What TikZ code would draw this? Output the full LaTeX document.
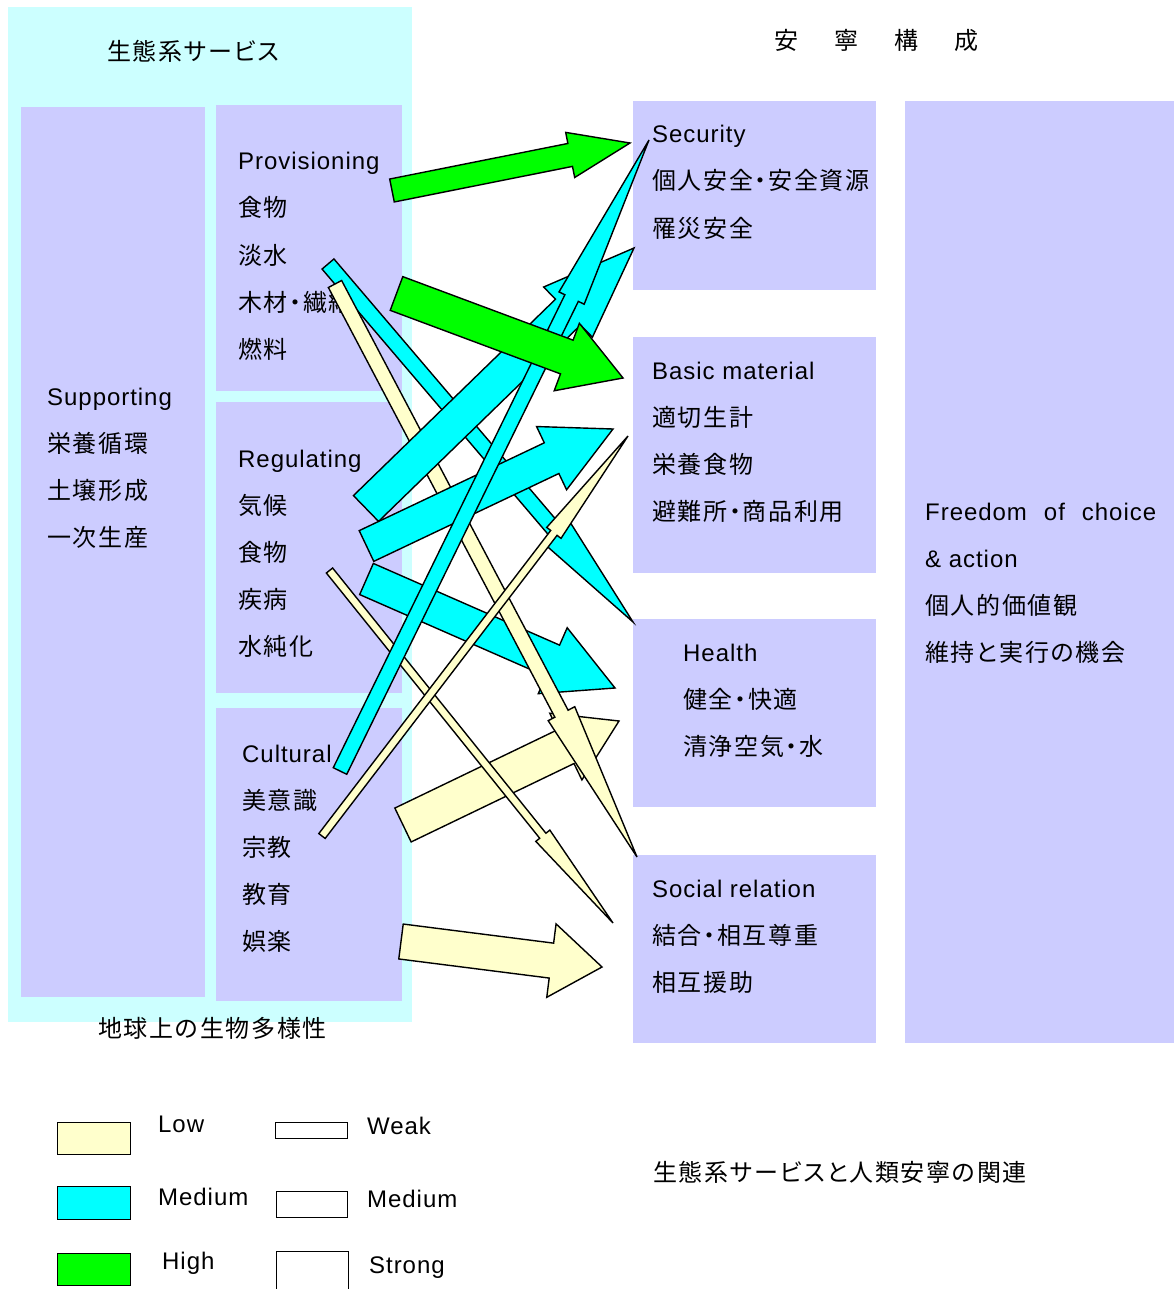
\documentclass[tikz,border=0pt]{standalone}
\usepackage{fontspec}
\setmainfont{Liberation Sans}[LetterSpace=4]
\newfontfamily\jp{Noto Sans CJK JP}[RawFeature=+palt, LetterSpace=7]
\usetikzlibrary{calc}
\definecolor{lcyan}{HTML}{CCFFFF}
\definecolor{lav}{HTML}{CCCCFF}
\definecolor{acyan}{HTML}{00FFFF}
\definecolor{agreen}{HTML}{00FF00}
\definecolor{ayel}{HTML}{FFFFCC}
% #1 fill, #2 tail, #3 tip, #4 shaft half width, #5 head half width, #6 head length
\newcommand\blockarrow[6]{%
  \coordinate (hb) at ($(#3)!#6!(#2)$);
  \filldraw[arr, fill=#1] ($(#2)!#4!90:(#3)$) -- ($(hb)!#4!90:(#3)$) -- ($(hb)!#5!90:(#3)$) -- (#3)
    -- ($(hb)!#5!-90:(#3)$) -- ($(hb)!#4!-90:(#3)$) -- ($(#2)!#4!-90:(#3)$) -- cycle;}
\begin{document}
\begin{tikzpicture}[x=1pt,y=-1pt,
  box/.style={fill=lav, draw=none, inner sep=0pt, anchor=north west},
  txt/.style={anchor=base west, inner sep=0pt, font=\fontsize{24}{28}\selectfont},
  arr/.style={draw=black, line width=1.4pt, line join=miter},
  leg/.style={draw=black, line width=1.4pt, inner sep=0pt, anchor=north west}]
\fill[white] (0,0) rectangle (1174,1289);
\useasboundingbox (0,0) rectangle (1174,1289);
% boxes
\node[box, fill=lcyan, minimum width=404pt, minimum height=1015pt] (eco) at (8,7) {};
\node[box, minimum width=184pt, minimum height=890pt] (supp) at (21,107) {};
\node[box, minimum width=186pt, minimum height=286pt] (prov) at (216,105) {};
\node[box, minimum width=186pt, minimum height=291pt] (reg) at (216,402) {};
\node[box, minimum width=186pt, minimum height=293pt] (cult) at (216,708) {};
\node[box, minimum width=243pt, minimum height=189pt] (sec) at (633,101) {};
\node[box, minimum width=243pt, minimum height=236pt] (bm) at (633,337) {};
\node[box, minimum width=243pt, minimum height=188pt] (hl) at (633,619) {};
\node[box, minimum width=243pt, minimum height=188pt] (soc) at (633,855) {};
\node[box, minimum width=269pt, minimum height=942pt] (free) at (905,101) {};
% titles
\node[txt] (ttl) at (107,61) {\jp 生態系サービス};
\node[txt] (wb) at (774,50) {\jp 安\hspace{36pt}寧\hspace{36pt}構\hspace{36pt}成};
\node[txt] (bio) at (98,1037) {\jp 地球上の生物多様性};
\node[txt] (cap) at (653,1181) {\jp 生態系サービスと人類安寧の関連};
% box texts
\foreach \t [count=\i from 0] in {Supporting, \jp 栄養循環, \jp 土壌形成, \jp 一次生産}
  \node[txt] (sp\i) at (47,405+47*\i) {\t};
\foreach \t [count=\i from 0] in {Provisioning, \jp 食物, \jp 淡水, \jp 木材・繊維, \jp 燃料}
  \node[txt] (pv\i) at (238,170+47*\i) {\t};
\foreach \t [count=\i from 0] in {Regulating, \jp 気候, \jp 食物, \jp 疾病, \jp 水純化}
  \node[txt] (rg\i) at (238,467+47*\i) {\t};
\foreach \t [count=\i from 0] in {Cultural, \jp 美意識, \jp 宗教, \jp 教育, \jp 娯楽}
  \node[txt] (cu\i) at (242,762+47*\i) {\t};
\foreach \t [count=\i from 0] in {Security, \jp 個人安全・安全資源, \jp 罹災安全}
  \node[txt] (se\i) at (652,143+47*\i) {\t};
\foreach \t [count=\i from 0] in {Basic material, \jp 適切生計, \jp 栄養食物, \jp 避難所・商品利用}
  \node[txt] (bm\i) at (652,379+47*\i) {\t};
\foreach \t [count=\i from 0] in {Health, \jp 健全・快適, \jp 清浄空気・水}
  \node[txt] (he\i) at (683,661+47*\i) {\t};
\foreach \t [count=\i from 0] in {Social relation, \jp 結合・相互尊重, \jp 相互援助}
  \node[txt] (so\i) at (652,897+47*\i) {\t};
\foreach \t [count=\i from 0] in {Freedom\hspace{17pt}of\hspace{17pt}choice, \& action, \jp 個人的価値観, \jp 維持と実行の機会}
  \node[txt] (fr\i) at (925,520+47*\i) {\t};
% arrow end points
\coordinate (g1t) at (392,190.5);  \coordinate (g1h) at (630,143);
\coordinate (g2t) at (396.5,293.5); \coordinate (g2h) at (623,378);
\coordinate (c1t) at (328,264);    \coordinate (c1h) at (633,622);
\coordinate (y1t) at (335,284);    \coordinate (y1h) at (637,857);
\coordinate (c2t) at (366,508.5);  \coordinate (c2h) at (634,248);
\coordinate (c3t) at (366.5,546);  \coordinate (c3h) at (613,429);
\coordinate (c4t) at (366.5,579);  \coordinate (c4h) at (615,688);
\coordinate (y2t) at (329.5,570.5); \coordinate (y2h) at (613,923);
\coordinate (y3t) at (322,836);    \coordinate (y3h) at (628,436);
\coordinate (c5t) at (340,771);    \coordinate (c5h) at (649,140);
\coordinate (y4t) at (403,825);    \coordinate (y4h) at (619,721);
\coordinate (y5t) at (401,941.5);  \coordinate (y5h) at (602,967);
% arrows
\blockarrow{acyan}{c1t}{c1h}{7.8pt}{17pt}{118pt}
\blockarrow{acyan}{c4t}{c4h}{17pt}{36pt}{68pt}
\blockarrow{ayel}{y4t}{y4h}{18.8pt}{37pt}{59pt}
\blockarrow{ayel}{y1t}{y1h}{7.5pt}{15pt}{162pt}
\blockarrow{acyan}{c2t}{c2h}{18pt}{35pt}{92pt}
\blockarrow{acyan}{c3t}{c3h}{17pt}{35pt}{68pt}
\blockarrow{ayel}{y2t}{y2h}{4pt}{9pt}{112pt}
\blockarrow{ayel}{y3t}{y3h}{4pt}{9pt}{122pt}
\blockarrow{acyan}{c5t}{c5h}{7.5pt}{14pt}{176pt}
\blockarrow{ayel}{y5t}{y5h}{17.6pt}{37pt}{51pt}
\blockarrow{agreen}{g1t}{g1h}{11.7pt}{23pt}{61pt}
\blockarrow{agreen}{g2t}{g2h}{18pt}{36pt}{60pt}
% legend
\node[leg, fill=ayel, minimum width=73pt, minimum height=32pt] (lLow) at (57,1122) {};
\node[leg, fill=acyan, minimum width=73pt, minimum height=33pt] (lMed) at (57,1186) {};
\node[leg, fill=agreen, minimum width=73pt, minimum height=32pt] (lHigh) at (57,1253) {};
\node[leg, fill=white, minimum width=72pt, minimum height=16pt] (lWeak) at (275,1122) {};
\node[leg, fill=white, minimum width=71pt, minimum height=26pt] (lMedW) at (276,1191) {};
\node[leg, fill=white, minimum width=72pt, minimum height=60pt] (lStrong) at (276,1251) {};
\node[txt] (tLow) at (158,1132) {Low};
\node[txt] (tMed) at (158,1205) {Medium};
\node[txt] (tHigh) at (162,1269) {High};
\node[txt] (tWeak) at (367,1134) {Weak};
\node[txt] (tMedW) at (367,1207) {Medium};
\node[txt] (tStrong) at (369,1273) {Strong};
\end{tikzpicture}
\end{document}
